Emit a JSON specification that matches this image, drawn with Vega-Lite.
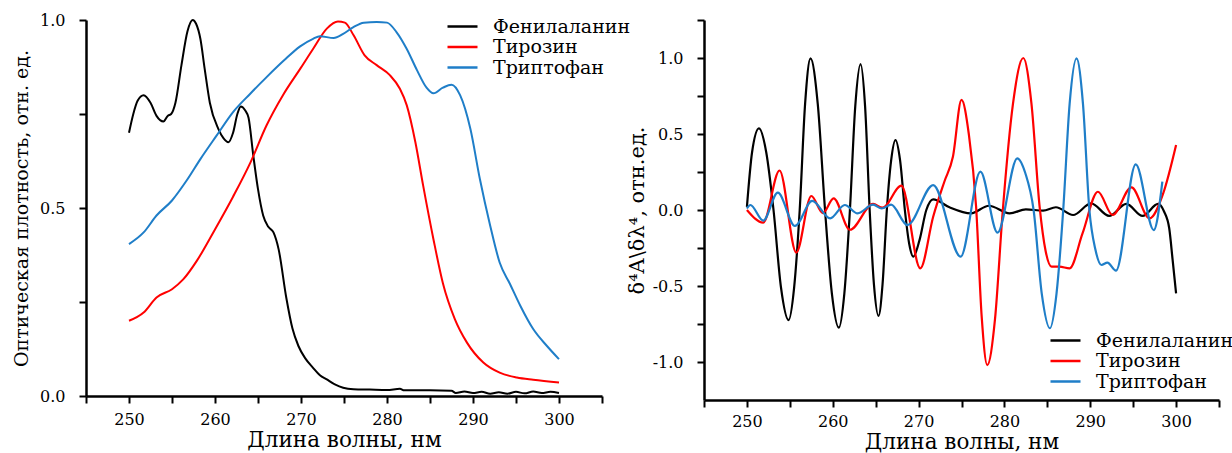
{
  "$schema": "https://vega.github.io/schema/vega-lite/v6.json",
  "background": "white",
  "padding": {"left": 12, "top": 12, "right": 0, "bottom": 0},
  "bounds": "flush",
  "spacing": 102,
  "config": {
    "font": "DejaVu Serif",
    "view": {"stroke": null},
    "axis": {
      "grid": false,
      "labelOverlap": false,
      "domainColor": "black",
      "domainWidth": 2.5,
      "tickColor": "black",
      "tickWidth": 2,
      "tickSize": 7,
      "labelColor": "black",
      "titleColor": "black",
      "labelFont": "DejaVu Serif",
      "titleFont": "DejaVu Serif",
      "labelFontSize": 16,
      "titleFontSize": 19,
      "titleFontWeight": "normal"
    },
    "legend": {
      "symbolType": "stroke",
      "symbolSize": 900,
      "symbolStrokeWidth": 2.5,
      "labelFont": "DejaVu Serif",
      "labelFontSize": 19,
      "labelColor": "black",
      "labelOffset": 14,
      "clipHeight": 19,
      "rowPadding": 0.5,
      "title": null
    }
  },
  "datasets": {
    "abs": [
      {"wl": 250, "val": 0.70, "s": "Фенилаланин"},
      {"wl": 250.5, "val": 0.75, "s": "Фенилаланин"},
      {"wl": 251, "val": 0.785, "s": "Фенилаланин"},
      {"wl": 251.7, "val": 0.80, "s": "Фенилаланин"},
      {"wl": 252.5, "val": 0.78, "s": "Фенилаланин"},
      {"wl": 253.2, "val": 0.745, "s": "Фенилаланин"},
      {"wl": 254, "val": 0.73, "s": "Фенилаланин"},
      {"wl": 254.5, "val": 0.745, "s": "Фенилаланин"},
      {"wl": 254.9, "val": 0.75, "s": "Фенилаланин"},
      {"wl": 255.4, "val": 0.78, "s": "Фенилаланин"},
      {"wl": 256.1, "val": 0.88, "s": "Фенилаланин"},
      {"wl": 256.8, "val": 0.97, "s": "Фенилаланин"},
      {"wl": 257.4, "val": 1.0, "s": "Фенилаланин"},
      {"wl": 257.8, "val": 0.99, "s": "Фенилаланин"},
      {"wl": 258.3, "val": 0.95, "s": "Фенилаланин"},
      {"wl": 258.8, "val": 0.87, "s": "Фенилаланин"},
      {"wl": 259.4, "val": 0.78, "s": "Фенилаланин"},
      {"wl": 260.4, "val": 0.71, "s": "Фенилаланин"},
      {"wl": 261.0, "val": 0.685, "s": "Фенилаланин"},
      {"wl": 261.55, "val": 0.675, "s": "Фенилаланин"},
      {"wl": 262.1, "val": 0.70, "s": "Фенилаланин"},
      {"wl": 262.6, "val": 0.75, "s": "Фенилаланин"},
      {"wl": 263.0, "val": 0.77, "s": "Фенилаланин"},
      {"wl": 263.5, "val": 0.76, "s": "Фенилаланин"},
      {"wl": 263.9, "val": 0.74, "s": "Фенилаланин"},
      {"wl": 264.45, "val": 0.64, "s": "Фенилаланин"},
      {"wl": 265.0, "val": 0.55, "s": "Фенилаланин"},
      {"wl": 265.6, "val": 0.48, "s": "Фенилаланин"},
      {"wl": 266.2, "val": 0.45, "s": "Фенилаланин"},
      {"wl": 266.8, "val": 0.435, "s": "Фенилаланин"},
      {"wl": 267.4, "val": 0.39, "s": "Фенилаланин"},
      {"wl": 268.3, "val": 0.26, "s": "Фенилаланин"},
      {"wl": 269.0, "val": 0.18, "s": "Фенилаланин"},
      {"wl": 269.7, "val": 0.133, "s": "Фенилаланин"},
      {"wl": 270.5, "val": 0.10, "s": "Фенилаланин"},
      {"wl": 271.4, "val": 0.075, "s": "Фенилаланин"},
      {"wl": 272.2, "val": 0.055, "s": "Фенилаланин"},
      {"wl": 273.0, "val": 0.044, "s": "Фенилаланин"},
      {"wl": 274.0, "val": 0.03, "s": "Фенилаланин"},
      {"wl": 274.9, "val": 0.022, "s": "Фенилаланин"},
      {"wl": 276.1, "val": 0.018, "s": "Фенилаланин"},
      {"wl": 278, "val": 0.017, "s": "Фенилаланин"},
      {"wl": 280, "val": 0.016, "s": "Фенилаланин"},
      {"wl": 281.5, "val": 0.019, "s": "Фенилаланин"},
      {"wl": 282, "val": 0.015, "s": "Фенилаланин"},
      {"wl": 285, "val": 0.015, "s": "Фенилаланин"},
      {"wl": 287.5, "val": 0.014, "s": "Фенилаланин"},
      {"wl": 288, "val": 0.008, "s": "Фенилаланин"},
      {"wl": 289, "val": 0.012, "s": "Фенилаланин"},
      {"wl": 290, "val": 0.008, "s": "Фенилаланин"},
      {"wl": 291, "val": 0.011, "s": "Фенилаланин"},
      {"wl": 292, "val": 0.006, "s": "Фенилаланин"},
      {"wl": 293, "val": 0.01, "s": "Фенилаланин"},
      {"wl": 294, "val": 0.006, "s": "Фенилаланин"},
      {"wl": 295, "val": 0.011, "s": "Фенилаланин"},
      {"wl": 296, "val": 0.007, "s": "Фенилаланин"},
      {"wl": 297, "val": 0.012, "s": "Фенилаланин"},
      {"wl": 298, "val": 0.008, "s": "Фенилаланин"},
      {"wl": 299, "val": 0.011, "s": "Фенилаланин"},
      {"wl": 300, "val": 0.008, "s": "Фенилаланин"},
      {"wl": 250, "val": 0.20, "s": "Тирозин"},
      {"wl": 251.7, "val": 0.222, "s": "Тирозин"},
      {"wl": 253.2, "val": 0.262, "s": "Тирозин"},
      {"wl": 255.0, "val": 0.284, "s": "Тирозин"},
      {"wl": 256.3, "val": 0.31, "s": "Тирозин"},
      {"wl": 257.9, "val": 0.36, "s": "Тирозин"},
      {"wl": 259.8, "val": 0.435, "s": "Тирозин"},
      {"wl": 262.1, "val": 0.53, "s": "Тирозин"},
      {"wl": 264.1, "val": 0.62, "s": "Тирозин"},
      {"wl": 266.0, "val": 0.72, "s": "Тирозин"},
      {"wl": 267.9, "val": 0.80, "s": "Тирозин"},
      {"wl": 269.9, "val": 0.87, "s": "Тирозин"},
      {"wl": 271.4, "val": 0.923, "s": "Тирозин"},
      {"wl": 273.0, "val": 0.977, "s": "Тирозин"},
      {"wl": 274.3, "val": 0.996, "s": "Тирозин"},
      {"wl": 275.1, "val": 0.993, "s": "Тирозин"},
      {"wl": 276.1, "val": 0.96, "s": "Тирозин"},
      {"wl": 277.4, "val": 0.906, "s": "Тирозин"},
      {"wl": 278.8, "val": 0.88, "s": "Тирозин"},
      {"wl": 280.3, "val": 0.854, "s": "Тирозин"},
      {"wl": 281.5, "val": 0.817, "s": "Тирозин"},
      {"wl": 282.3, "val": 0.773, "s": "Тирозин"},
      {"wl": 283.3, "val": 0.675, "s": "Тирозин"},
      {"wl": 284.2, "val": 0.56, "s": "Тирозин"},
      {"wl": 285.4, "val": 0.417, "s": "Тирозин"},
      {"wl": 286.5, "val": 0.30, "s": "Тирозин"},
      {"wl": 287.9, "val": 0.204, "s": "Тирозин"},
      {"wl": 289.3, "val": 0.142, "s": "Тирозин"},
      {"wl": 291.2, "val": 0.089, "s": "Тирозин"},
      {"wl": 293.1, "val": 0.062, "s": "Тирозин"},
      {"wl": 295.1, "val": 0.049, "s": "Тирозин"},
      {"wl": 297.0, "val": 0.043, "s": "Тирозин"},
      {"wl": 300, "val": 0.036, "s": "Тирозин"},
      {"wl": 250, "val": 0.404, "s": "Триптофан"},
      {"wl": 251.7, "val": 0.435, "s": "Триптофан"},
      {"wl": 253.2, "val": 0.48, "s": "Триптофан"},
      {"wl": 255.0, "val": 0.52, "s": "Триптофан"},
      {"wl": 256.7, "val": 0.573, "s": "Триптофан"},
      {"wl": 258.3, "val": 0.63, "s": "Триптофан"},
      {"wl": 260.2, "val": 0.693, "s": "Триптофан"},
      {"wl": 262.1, "val": 0.755, "s": "Триптофан"},
      {"wl": 264.1, "val": 0.804, "s": "Триптофан"},
      {"wl": 266.0, "val": 0.848, "s": "Триптофан"},
      {"wl": 268.0, "val": 0.892, "s": "Триптофан"},
      {"wl": 269.9, "val": 0.93, "s": "Триптофан"},
      {"wl": 271.4, "val": 0.95, "s": "Триптофан"},
      {"wl": 272.2, "val": 0.957, "s": "Триптофан"},
      {"wl": 273.8, "val": 0.952, "s": "Триптофан"},
      {"wl": 274.9, "val": 0.963, "s": "Триптофан"},
      {"wl": 276.1, "val": 0.981, "s": "Триптофан"},
      {"wl": 277.3, "val": 0.993, "s": "Триптофан"},
      {"wl": 278.8, "val": 0.995, "s": "Триптофан"},
      {"wl": 280.0, "val": 0.993, "s": "Триптофан"},
      {"wl": 281.1, "val": 0.968, "s": "Триптофан"},
      {"wl": 282.3, "val": 0.923, "s": "Триптофан"},
      {"wl": 283.5, "val": 0.866, "s": "Триптофан"},
      {"wl": 284.6, "val": 0.82, "s": "Триптофан"},
      {"wl": 285.4, "val": 0.805, "s": "Триптофан"},
      {"wl": 286.5, "val": 0.82, "s": "Триптофан"},
      {"wl": 287.5, "val": 0.828, "s": "Триптофан"},
      {"wl": 288.5, "val": 0.80, "s": "Триптофан"},
      {"wl": 289.7, "val": 0.71, "s": "Триптофан"},
      {"wl": 290.8, "val": 0.577, "s": "Триптофан"},
      {"wl": 292.0, "val": 0.453, "s": "Триптофан"},
      {"wl": 293.1, "val": 0.355, "s": "Триптофан"},
      {"wl": 294.3, "val": 0.298, "s": "Триптофан"},
      {"wl": 295.5, "val": 0.24, "s": "Триптофан"},
      {"wl": 297.0, "val": 0.178, "s": "Триптофан"},
      {"wl": 298.6, "val": 0.133, "s": "Триптофан"},
      {"wl": 300, "val": 0.098, "s": "Триптофан"}
    ],
    "deriv": [
      {"wl": 250, "val": 0.02, "s": "Фенилаланин"},
      {"wl": 250.6, "val": 0.38, "s": "Фенилаланин"},
      {"wl": 251.4, "val": 0.537, "s": "Фенилаланин"},
      {"wl": 252.25, "val": 0.38, "s": "Фенилаланин"},
      {"wl": 253.1, "val": 0.0, "s": "Фенилаланин"},
      {"wl": 253.97, "val": -0.51, "s": "Фенилаланин"},
      {"wl": 254.85, "val": -0.724, "s": "Фенилаланин"},
      {"wl": 255.5, "val": -0.51, "s": "Фенилаланин"},
      {"wl": 256.15, "val": 0.0, "s": "Фенилаланин"},
      {"wl": 256.78, "val": 0.70, "s": "Фенилаланин"},
      {"wl": 257.41, "val": 0.998, "s": "Фенилаланин"},
      {"wl": 258.25, "val": 0.70, "s": "Фенилаланин"},
      {"wl": 259.1, "val": 0.0, "s": "Фенилаланин"},
      {"wl": 259.9, "val": -0.55, "s": "Фенилаланин"},
      {"wl": 260.71, "val": -0.774, "s": "Фенилаланин"},
      {"wl": 261.35, "val": -0.55, "s": "Фенилаланин"},
      {"wl": 262.0, "val": 0.0, "s": "Фенилаланин"},
      {"wl": 262.62, "val": 0.68, "s": "Фенилаланин"},
      {"wl": 263.24, "val": 0.96, "s": "Фенилаланин"},
      {"wl": 263.77, "val": 0.68, "s": "Фенилаланин"},
      {"wl": 264.3, "val": 0.0, "s": "Фенилаланин"},
      {"wl": 264.8, "val": -0.49, "s": "Фенилаланин"},
      {"wl": 265.33, "val": -0.697, "s": "Фенилаланин"},
      {"wl": 265.8, "val": -0.49, "s": "Фенилаланин"},
      {"wl": 266.3, "val": 0.0, "s": "Фенилаланин"},
      {"wl": 266.8, "val": 0.325, "s": "Фенилаланин"},
      {"wl": 267.31, "val": 0.46, "s": "Фенилаланин"},
      {"wl": 267.85, "val": 0.325, "s": "Фенилаланин"},
      {"wl": 268.4, "val": 0.0, "s": "Фенилаланин"},
      {"wl": 268.9, "val": -0.22, "s": "Фенилаланин"},
      {"wl": 269.38, "val": -0.307, "s": "Фенилаланин"},
      {"wl": 270.1, "val": -0.2, "s": "Фенилаланин"},
      {"wl": 270.9, "val": 0.0, "s": "Фенилаланин"},
      {"wl": 271.7, "val": 0.07, "s": "Фенилаланин"},
      {"wl": 273.6, "val": 0.018, "s": "Фенилаланин"},
      {"wl": 276.1, "val": -0.022, "s": "Фенилаланин"},
      {"wl": 278.2, "val": 0.028, "s": "Фенилаланин"},
      {"wl": 280.6, "val": -0.022, "s": "Фенилаланин"},
      {"wl": 282.5, "val": 0.004, "s": "Фенилаланин"},
      {"wl": 284.5, "val": -0.004, "s": "Фенилаланин"},
      {"wl": 286.0, "val": 0.018, "s": "Фенилаланин"},
      {"wl": 288.0, "val": -0.033, "s": "Фенилаланин"},
      {"wl": 290.1, "val": 0.044, "s": "Фенилаланин"},
      {"wl": 292.2, "val": -0.039, "s": "Фенилаланин"},
      {"wl": 294.2, "val": 0.04, "s": "Фенилаланин"},
      {"wl": 296.1, "val": -0.039, "s": "Фенилаланин"},
      {"wl": 297.9, "val": 0.04, "s": "Фенилаланин"},
      {"wl": 298.6, "val": -0.01, "s": "Фенилаланин"},
      {"wl": 299.2, "val": -0.12, "s": "Фенилаланин"},
      {"wl": 299.6, "val": -0.33, "s": "Фенилаланин"},
      {"wl": 300, "val": -0.548, "s": "Фенилаланин"},
      {"wl": 250, "val": 0.0, "s": "Тирозин"},
      {"wl": 251.9, "val": -0.083, "s": "Тирозин"},
      {"wl": 253.8, "val": 0.26, "s": "Тирозин"},
      {"wl": 255.75, "val": -0.28, "s": "Тирозин"},
      {"wl": 257.5, "val": 0.092, "s": "Тирозин"},
      {"wl": 258.85, "val": -0.02, "s": "Тирозин"},
      {"wl": 260.1, "val": 0.077, "s": "Тирозин"},
      {"wl": 262.0, "val": -0.13, "s": "Тирозин"},
      {"wl": 264.7, "val": 0.04, "s": "Тирозин"},
      {"wl": 265.8, "val": 0.015, "s": "Тирозин"},
      {"wl": 268.0, "val": 0.16, "s": "Тирозин"},
      {"wl": 270.2, "val": -0.384, "s": "Тирозин"},
      {"wl": 271.7, "val": -0.044, "s": "Тирозин"},
      {"wl": 273.0, "val": 0.186, "s": "Тирозин"},
      {"wl": 274.0, "val": 0.35, "s": "Тирозин"},
      {"wl": 275.0, "val": 0.724, "s": "Тирозин"},
      {"wl": 275.85, "val": 0.5, "s": "Тирозин"},
      {"wl": 276.7, "val": 0.022, "s": "Тирозин"},
      {"wl": 277.35, "val": -0.7, "s": "Тирозин"},
      {"wl": 278.0, "val": -1.02, "s": "Тирозин"},
      {"wl": 278.9, "val": -0.72, "s": "Тирозин"},
      {"wl": 279.8, "val": -0.01, "s": "Тирозин"},
      {"wl": 281.0, "val": 0.7, "s": "Тирозин"},
      {"wl": 282.2, "val": 1.0, "s": "Тирозин"},
      {"wl": 283.15, "val": 0.7, "s": "Тирозин"},
      {"wl": 284.1, "val": 0.022, "s": "Тирозин"},
      {"wl": 284.8, "val": -0.27, "s": "Тирозин"},
      {"wl": 285.5, "val": -0.373, "s": "Тирозин"},
      {"wl": 286.4, "val": -0.373, "s": "Тирозин"},
      {"wl": 287.6, "val": -0.384, "s": "Тирозин"},
      {"wl": 289.1, "val": -0.154, "s": "Тирозин"},
      {"wl": 290.9, "val": 0.12, "s": "Тирозин"},
      {"wl": 292.6, "val": -0.033, "s": "Тирозин"},
      {"wl": 294.8, "val": 0.149, "s": "Тирозин"},
      {"wl": 296.9, "val": -0.055, "s": "Тирозин"},
      {"wl": 298.5, "val": 0.11, "s": "Тирозин"},
      {"wl": 300, "val": 0.428, "s": "Тирозин"},
      {"wl": 250, "val": 0.01, "s": "Триптофан"},
      {"wl": 250.4, "val": 0.033, "s": "Триптофан"},
      {"wl": 251.9, "val": -0.07, "s": "Триптофан"},
      {"wl": 253.6, "val": 0.114, "s": "Триптофан"},
      {"wl": 255.6, "val": -0.105, "s": "Триптофан"},
      {"wl": 257.6, "val": 0.06, "s": "Триптофан"},
      {"wl": 259.7, "val": -0.055, "s": "Триптофан"},
      {"wl": 261.4, "val": 0.033, "s": "Триптофан"},
      {"wl": 262.9, "val": -0.022, "s": "Триптофан"},
      {"wl": 264.7, "val": 0.035, "s": "Триптофан"},
      {"wl": 265.7, "val": 0.01, "s": "Триптофан"},
      {"wl": 266.8, "val": 0.035, "s": "Триптофан"},
      {"wl": 268.7, "val": -0.099, "s": "Триптофан"},
      {"wl": 271.7, "val": 0.164, "s": "Триптофан"},
      {"wl": 274.9, "val": -0.307, "s": "Триптофан"},
      {"wl": 277.2, "val": 0.252, "s": "Триптофан"},
      {"wl": 279.2, "val": -0.149, "s": "Триптофан"},
      {"wl": 281.5, "val": 0.34, "s": "Триптофан"},
      {"wl": 282.45, "val": 0.24, "s": "Триптофан"},
      {"wl": 283.4, "val": 0.0, "s": "Триптофан"},
      {"wl": 284.35, "val": -0.55, "s": "Триптофан"},
      {"wl": 285.3, "val": -0.778, "s": "Триптофан"},
      {"wl": 286.07, "val": -0.55, "s": "Триптофан"},
      {"wl": 286.85, "val": 0.0, "s": "Триптофан"},
      {"wl": 287.6, "val": 0.70, "s": "Триптофан"},
      {"wl": 288.4, "val": 0.998, "s": "Триптофан"},
      {"wl": 289.15, "val": 0.70, "s": "Триптофан"},
      {"wl": 289.9, "val": 0.0, "s": "Триптофан"},
      {"wl": 290.6, "val": -0.26, "s": "Триптофан"},
      {"wl": 291.3, "val": -0.362, "s": "Триптофан"},
      {"wl": 292.0, "val": -0.346, "s": "Триптофан"},
      {"wl": 293.0, "val": -0.399, "s": "Триптофан"},
      {"wl": 295.3, "val": 0.30, "s": "Триптофан"},
      {"wl": 297.4, "val": -0.132, "s": "Триптофан"},
      {"wl": 298.4, "val": 0.186, "s": "Триптофан"}
    ]
  },
  "resolve": {"legend": {"color": "independent"}},
  "hconcat": [
    {
      "width": 516,
      "height": 376,
      "layer": [
        {
          "data": {"name": "abs"},
          "mark": {"type": "line", "strokeWidth": 2, "interpolate": "monotone"},
          "encoding": {
            "x": {
              "field": "wl", "type": "quantitative",
              "scale": {"domain": [245, 305], "nice": false, "zero": false},
              "axis": {
                "title": "Длина волны, нм",
                "values": [245, 250, 255, 260, 265, 270, 275, 280, 285, 290, 295, 300, 305],
                "labelExpr": "datum.value % 10 == 0 ? format(datum.value, 'd') : ''",
                "labelPadding": 8,
                "titlePadding": 2,
                "titleFontSize": 21.5
              }
            },
            "y": {
              "field": "val", "type": "quantitative",
              "scale": {"domain": [0, 1], "nice": false},
              "axis": {
                "title": "Оптическая плотность, отн. ед.",
                "values": [0, 0.25, 0.5, 0.75, 1.0],
                "labelExpr": "(datum.value * 2) % 1 == 0 ? format(datum.value, '.1f') : ''",
                "labelPadding": 14,
                "titlePadding": 8
              }
            },
            "color": {
              "field": "s", "type": "nominal",
              "scale": {"domain": ["Фенилаланин", "Тирозин", "Триптофан"], "range": ["#000000", "#ff0000", "#1f7ec8"]},
              "legend": {"orient": "none", "legendX": 360, "legendY": -3}
            }
          }
        },
        {
          "mark": {"type": "text", "fontSize": 22, "align": "center", "baseline": "middle", "font": "DejaVu Serif", "color": "black"},
          "encoding": {
            "x": {"datum": 250, "type": "quantitative"},
            "y": {"datum": 0.085, "type": "quantitative"},
            "text": {"value": "а"}
          }
        }
      ]
    },
    {
      "width": 515,
      "height": 380,
      "layer": [
        {
          "data": {"name": "deriv"},
          "mark": {"type": "line", "strokeWidth": 2.2, "interpolate": "monotone"},
          "encoding": {
            "x": {
              "field": "wl", "type": "quantitative",
              "scale": {"domain": [245, 305], "nice": false, "zero": false},
              "axis": {
                "title": "Длина волны, нм",
                "values": [245, 250, 255, 260, 265, 270, 275, 280, 285, 290, 295, 300, 305],
                "labelExpr": "datum.value % 10 == 0 ? format(datum.value, 'd') : ''",
                "labelPadding": 6,
                "titlePadding": 2,
                "titleFontSize": 21.5
              }
            },
            "y": {
              "field": "val", "type": "quantitative",
              "scale": {"domain": [-1.25, 1.25], "nice": false},
              "axis": {
                "title": "δ⁴A\\δλ⁴, отн.ед.",
                "titleFontSize": 21,
                "values": [-1, -0.75, -0.5, -0.25, 0, 0.25, 0.5, 0.75, 1, 1.25],
                "labelOverlap": false,
                "labelBound": false,
                "labelFlush": false,
                "labelExpr": "datum.value == -1 ? '-1.0' : datum.value == -0.5 ? '-0.5' : datum.value == 0 ? '0.0' : datum.value == 0.5 ? '0.5' : datum.value == 1 ? '1.0' : ''",
                "labelPadding": 14,
                "titlePadding": 5
              }
            },
            "color": {
              "field": "s", "type": "nominal",
              "scale": {"domain": ["Фенилаланин", "Тирозин", "Триптофан"], "range": ["#000000", "#ff0000", "#1f7ec8"]},
              "legend": {"orient": "none", "legendX": 345, "legendY": 311}
            }
          }
        },
        {
          "mark": {"type": "text", "fontSize": 22, "align": "center", "baseline": "middle", "font": "DejaVu Serif", "color": "black"},
          "encoding": {
            "x": {"datum": 250, "type": "quantitative"},
            "y": {"datum": -1.066, "type": "quantitative"},
            "text": {"value": "б"}
          }
        }
      ]
    }
  ]
}
